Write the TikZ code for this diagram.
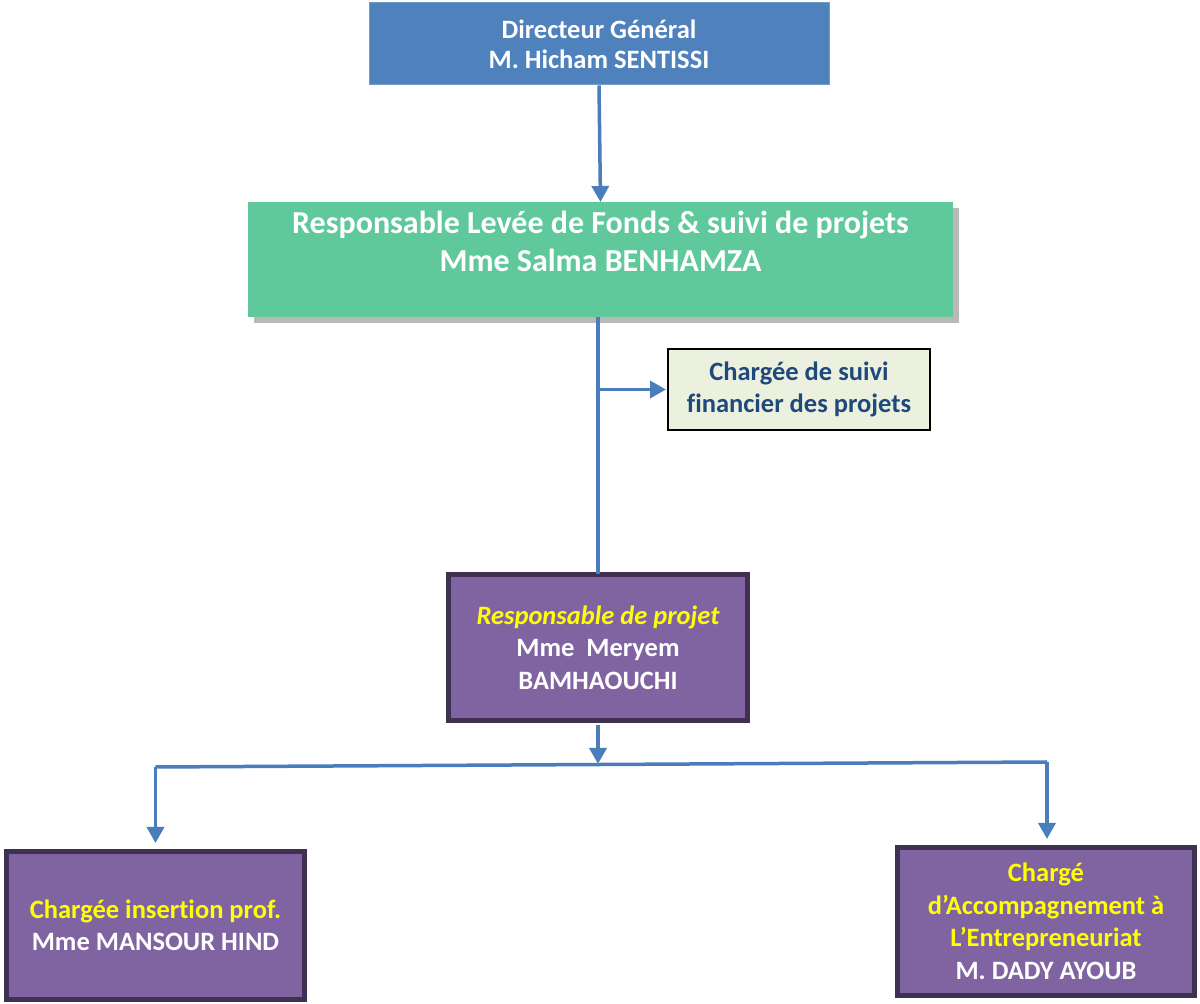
\documentclass[tikz,border=0pt]{standalone}
\usepackage{fontspec}
\setmainfont[Ligatures={NoCommon,NoRare}]{Carlito}
\usetikzlibrary{arrows.meta,calc}
\definecolor{dgblue}{HTML}{4F81BD}
\definecolor{rgreen}{HTML}{5FC99B}
\definecolor{cfill}{HTML}{EBF1DE}
\definecolor{ctext}{HTML}{1F497D}
\definecolor{pfill}{HTML}{8064A2}
\definecolor{pline}{HTML}{3F3151}
\definecolor{connc}{HTML}{4A7EBB}
\definecolor{yel}{HTML}{FFFF00}
\begin{document}
\begin{tikzpicture}[x=1pt,y=1pt,
  box/.style={rectangle,inner sep=0pt,align=center,font=\bfseries},
  dgbox/.style={box,fill=dgblue,draw=dgblue!80!white,line width=1pt,text=white,font=\bfseries\fontsize{26.5}{30}\selectfont},
  greenbox/.style={box,fill=rgreen},
  greentext/.style={box,text=white,font=\bfseries\fontsize{32}{38}\selectfont},
  cbox/.style={box,fill=cfill,draw=black,line width=2pt,text=ctext,font=\bfseries\fontsize{26.5}{32}\selectfont},
  pbox/.style={box,fill=pfill,draw=pline,line width=5pt,text=white,font=\bfseries\fontsize{26.5}{32.5}\selectfont},
  conn/.style={draw=connc,line width=3.5pt},
  arr/.style={conn,-{Triangle[length=16pt,width=17pt]}},
  yl/.style={text=yel}]
\useasboundingbox (0,0) rectangle (1200,1004);
% nodes
\node[dgbox,minimum width=460,minimum height=82] (dg) at (599,960)
  {Directeur Général\\M. Hicham SENTISSI};
\fill[gray!55] (254,1004-323) rectangle (959,1004-208);
\node[greenbox,minimum width=705,minimum height=115,anchor=north] (resp) at (600.5,802) {};
\node[greentext] (resptext) at ($(resp.north)+(0,-39)$)
  {Responsable Levée de Fonds \& suivi de projets\\Mme Salma BENHAMZA};
\node[cbox,minimum width=262,minimum height=81] (cs) at (799,614.5)
  {Chargée de suivi\\financier des projets};
\node[pbox,minimum width=299,minimum height=146] (rp) at (598,356.5)
  {\textcolor{yel}{\itshape Responsable de projet}\\Mme\ \ Meryem\\BAMHAOUCHI};
\node[pbox,minimum width=298,minimum height=148] (ci) at (155.5,78.5)
  {\textcolor{yel}{Chargée insertion prof.}\\Mme MANSOUR HIND};
\node[pbox,minimum width=297,minimum height=148] (ca) at (1046,82.5)
  {\textcolor{yel}{Chargé}\\\textcolor{yel}{d’Accompagnement à}\\\textcolor{yel}{L’Entrepreneuriat}\\M. DADY AYOUB};
% connectors
\draw[arr] (dg.south) -- (resp.north);
\draw[conn] (rp.north |- resp.south) -- ($(rp.north)+(0,-2)$);
\coordinate (br) at (rp.north |- cs.west);
\draw[arr] (br) -- ($(cs.west)+(-1,0)$);
\coordinate (hl) at (155.5,237);
\coordinate (hr) at (1047,242);
\coordinate (hm) at (598,240);
\draw[conn] (hl) -- (hr);
\draw[arr] ($(rp.south)+(0,-2)$) -- (hm);
\draw[arr] (hl) -- ($(ci.north)+(0,6)$);
\draw[arr] (hr) -- ($(ca.north)+(1,6)$);
\end{tikzpicture}
\end{document}
